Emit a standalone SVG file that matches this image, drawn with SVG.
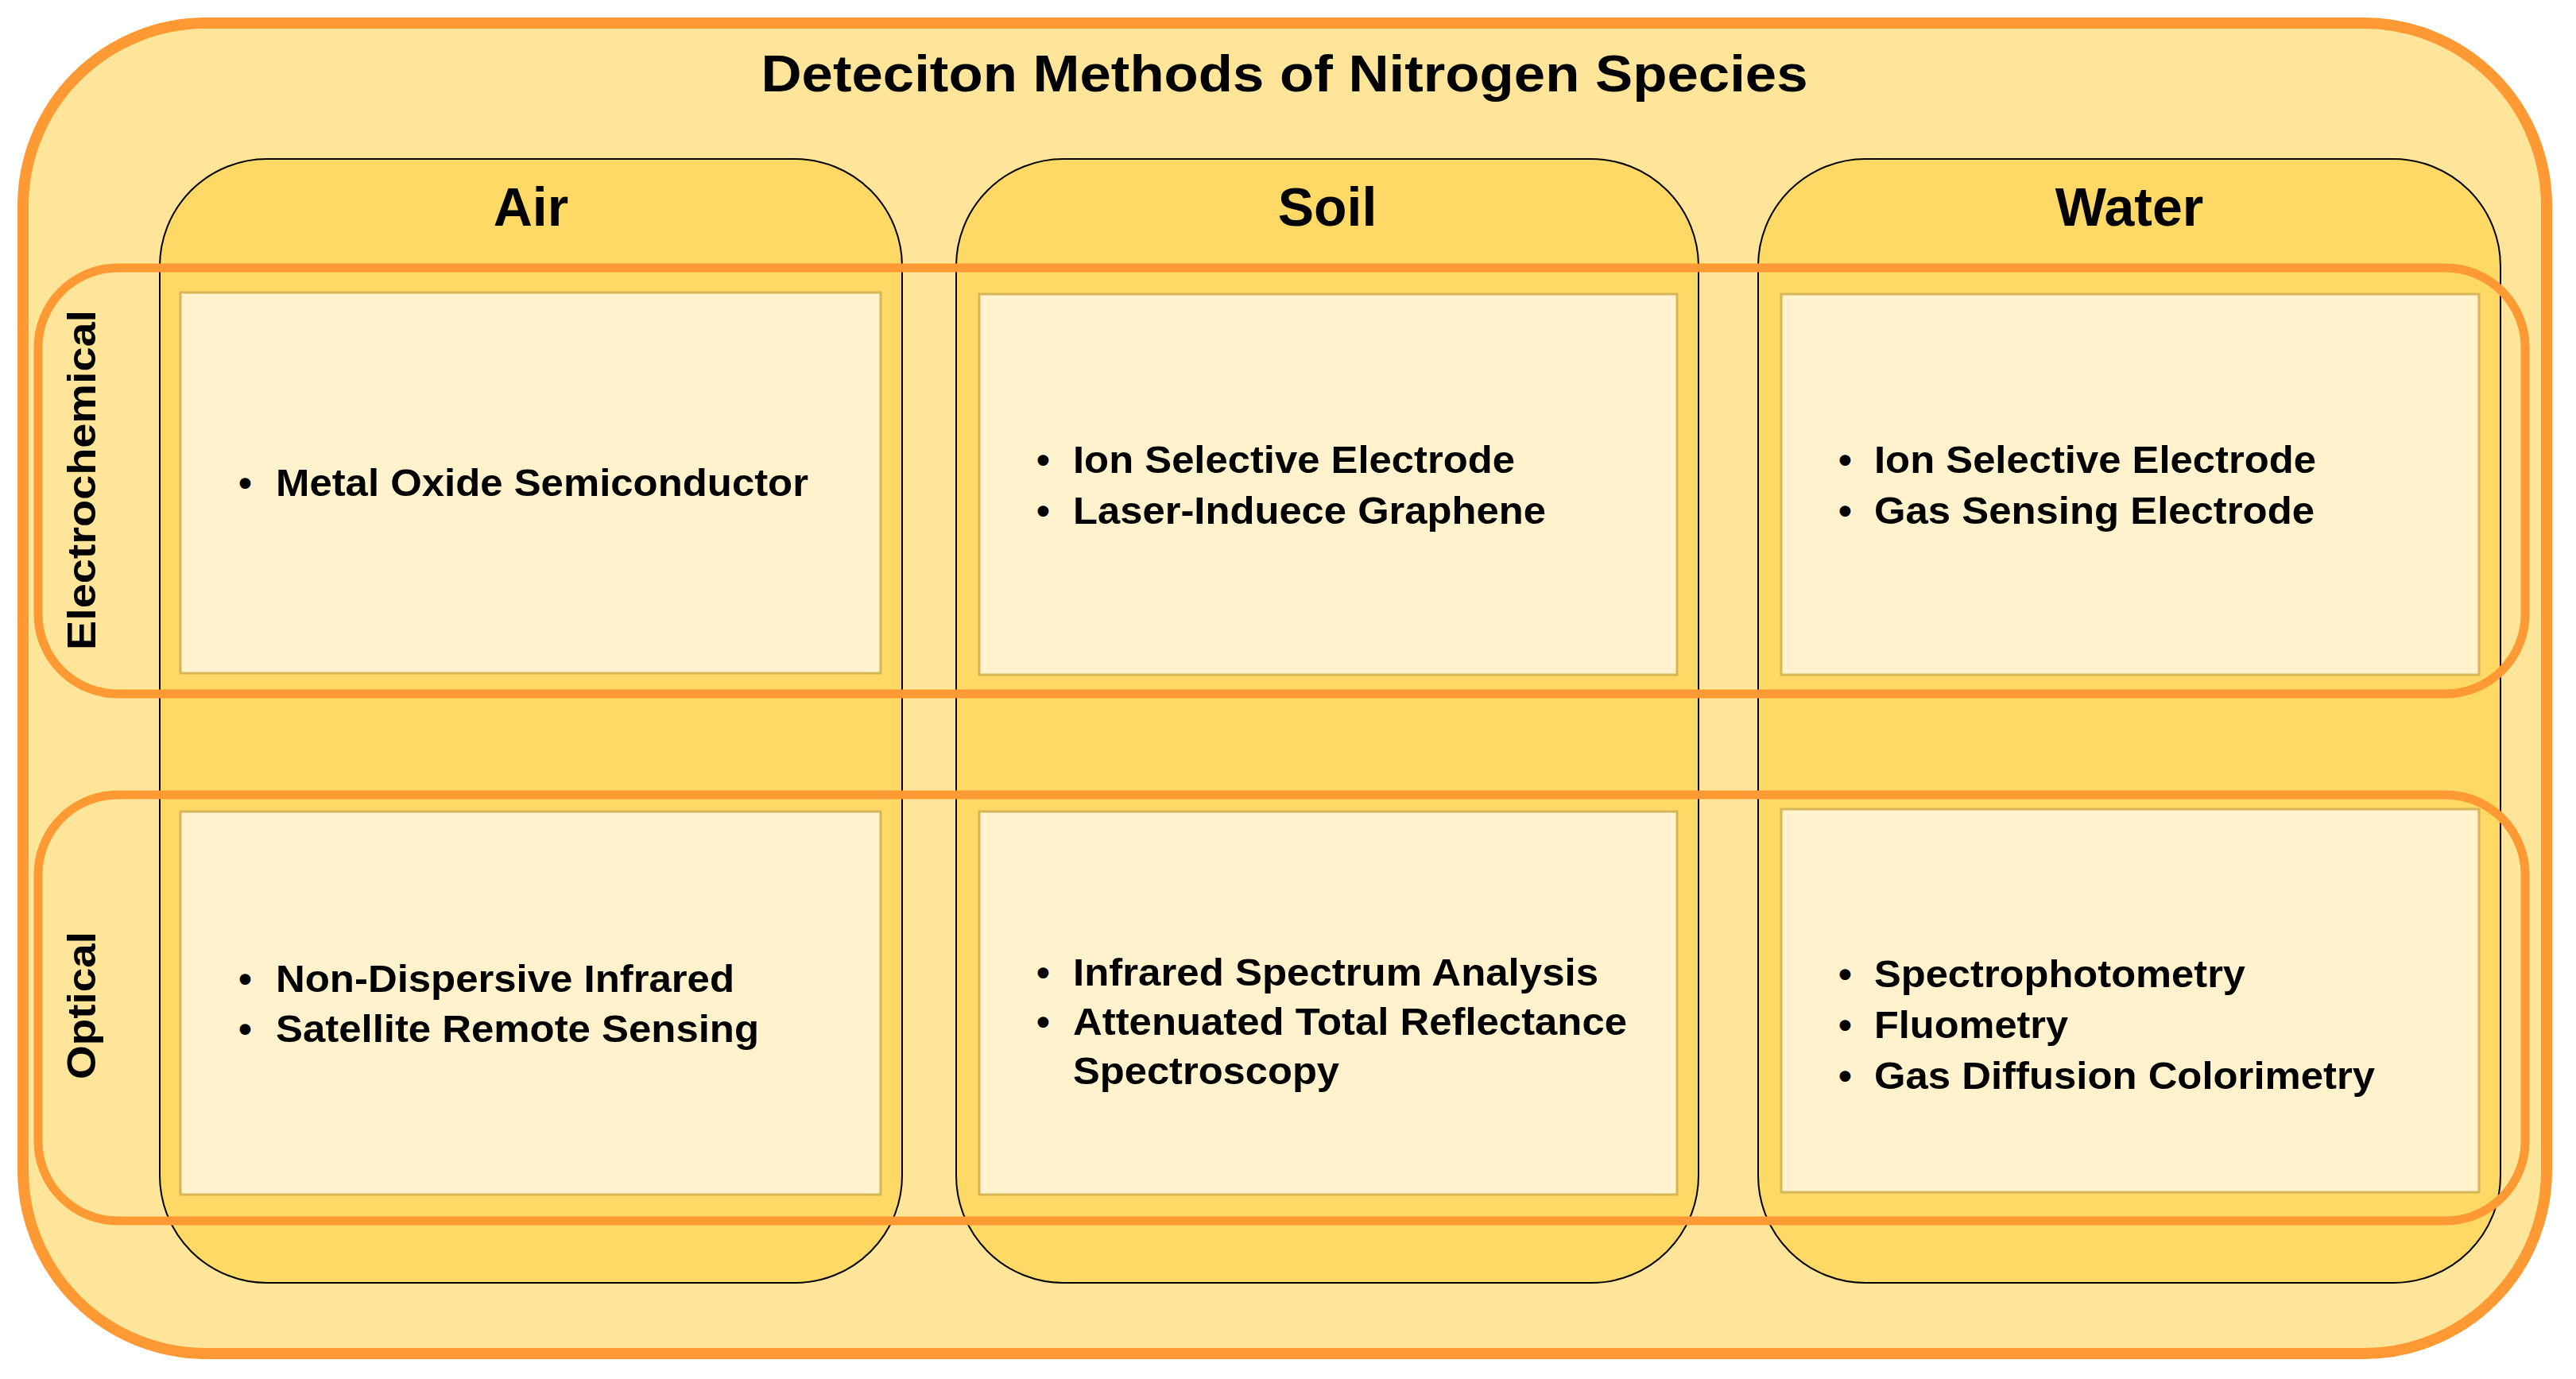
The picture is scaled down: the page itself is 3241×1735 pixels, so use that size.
<svg xmlns="http://www.w3.org/2000/svg" width="3241" height="1735" viewBox="0 0 3241 1735">
<style>
text{font-family:"Liberation Sans",Arial,sans-serif;font-weight:bold;fill:#000}
.col{fill:#FFD966;stroke:#000;stroke-width:2}
.box{fill:#FFF2CC;stroke:#D6B656;stroke-width:3}
.band{fill:none;stroke:#FF9933;stroke-width:11}
.it{font-size:48px}
.hd{font-size:68px;text-anchor:middle}
.vl{font-size:50px;text-anchor:middle}
</style>
<rect width="3241" height="1735" fill="#fff"/>
<g id="outer"><rect x="29" y="29" width="3175" height="1674" rx="230" fill="#FFE599" stroke="#FF9933" stroke-width="14"/>
<text x="1616" y="115" font-size="64" text-anchor="middle" textLength="1317" lengthAdjust="spacingAndGlyphs">Deteciton Methods of Nitrogen Species</text></g>
<g id="col-air"><rect class="col" x="201" y="200" width="934" height="1414" rx="135"/><text class="hd" x="668" y="284">Air</text></g>
<g id="col-soil"><rect class="col" x="1203" y="200" width="934" height="1414" rx="135"/><text class="hd" x="1670" y="284">Soil</text></g>
<g id="col-water"><rect class="col" x="2212" y="200" width="934" height="1414" rx="135"/><text class="hd" x="2679" y="284">Water</text></g>
<g id="air-electro"><rect class="box" x="227" y="368" width="881" height="479"/>
<text class="it" x="300" y="624">•</text><text class="it" x="347" y="624" textLength="670" lengthAdjust="spacingAndGlyphs">Metal Oxide Semiconductor</text></g>
<g id="soil-electro"><rect class="box" x="1232" y="370" width="878" height="479"/>
<text class="it" x="1304" y="595">•</text><text class="it" x="1350" y="595" textLength="556" lengthAdjust="spacingAndGlyphs">Ion Selective Electrode</text>
<text class="it" x="1304" y="659">•</text><text class="it" x="1350" y="659" textLength="595" lengthAdjust="spacingAndGlyphs">Laser-Induece Graphene</text></g>
<g id="water-electro"><rect class="box" x="2241" y="370" width="878" height="479"/>
<text class="it" x="2313" y="595">•</text><text class="it" x="2358" y="595" textLength="556" lengthAdjust="spacingAndGlyphs">Ion Selective Electrode</text>
<text class="it" x="2313" y="659">•</text><text class="it" x="2358" y="659" textLength="554" lengthAdjust="spacingAndGlyphs">Gas Sensing Electrode</text></g>
<g id="air-optical"><rect class="box" x="227" y="1021" width="881" height="482"/>
<text class="it" x="300" y="1248">•</text><text class="it" x="347" y="1248" textLength="577" lengthAdjust="spacingAndGlyphs">Non-Dispersive Infrared</text>
<text class="it" x="300" y="1311">•</text><text class="it" x="347" y="1311" textLength="608" lengthAdjust="spacingAndGlyphs">Satellite Remote Sensing</text></g>
<g id="soil-optical"><rect class="box" x="1232" y="1021" width="878" height="482"/>
<text class="it" x="1304" y="1240">•</text><text class="it" x="1350" y="1240" textLength="661" lengthAdjust="spacingAndGlyphs">Infrared Spectrum Analysis</text>
<text class="it" x="1304" y="1302">•</text><text class="it" x="1350" y="1302" textLength="697" lengthAdjust="spacingAndGlyphs">Attenuated Total Reflectance</text>
<text class="it" x="1350" y="1364" textLength="335" lengthAdjust="spacingAndGlyphs">Spectroscopy</text></g>
<g id="water-optical"><rect class="box" x="2241" y="1018" width="878" height="482"/>
<text class="it" x="2313" y="1242">•</text><text class="it" x="2358" y="1242" textLength="467" lengthAdjust="spacingAndGlyphs">Spectrophotometry</text>
<text class="it" x="2313" y="1306">•</text><text class="it" x="2358" y="1306" textLength="244" lengthAdjust="spacingAndGlyphs">Fluometry</text>
<text class="it" x="2313" y="1370">•</text><text class="it" x="2358" y="1370" textLength="630" lengthAdjust="spacingAndGlyphs">Gas Diffusion Colorimetry</text></g>
<g id="band-electro"><rect class="band" x="48" y="337" width="3129" height="536" rx="100"/>
<text class="vl" transform="translate(120,604) rotate(-90)" textLength="428" lengthAdjust="spacingAndGlyphs">Electrochemical</text></g>
<g id="band-optical"><rect class="band" x="48" y="1000" width="3129" height="536" rx="100"/>
<text class="vl" transform="translate(120,1265) rotate(-90)" textLength="186" lengthAdjust="spacingAndGlyphs">Optical</text></g>
<g id="connectors"/>
</svg>
